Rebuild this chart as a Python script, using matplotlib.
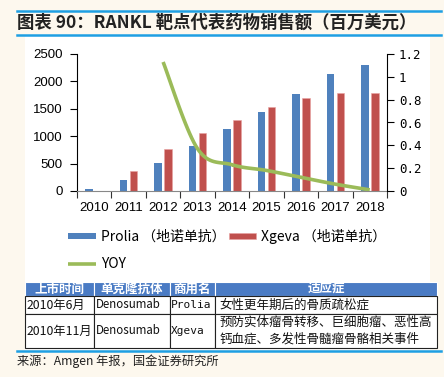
import numpy as np
import matplotlib
matplotlib.use('Agg')
import matplotlib.pyplot as plt
from matplotlib.patches import Rectangle
from matplotlib.lines import Line2D

plt.rcParams['font.family'] = ['Noto Sans CJK SC', 'DejaVu Sans']

years   = ['2010', '2011', '2012', '2013', '2014', '2015', '2016', '2017', '2018']
prolia  = [33, 200, 510, 820, 1125, 1440, 1770, 2130, 2300]
xgeva   = [7, 360, 760, 1065, 1290, 1530, 1700, 1795, 1795]
yoy_years = ['2012', '2013', '2014', '2015', '2016', '2017', '2018']
yoy     = [1.13, 0.37, 0.23, 0.18, 0.12, 0.06, 0.01]

table_header = ['上市时间', '单克隆抗体', '商用名', '适应症']
table_rows = [
    ['2010年6月', 'Denosumab', 'Prolia', '女性更年期后的骨质疏松症'],
    ['2010年11月', 'Denosumab', 'Xgeva', '预防实体瘤骨转移、巨细胞瘤、恶性高\n钙血症、多发性骨髓瘤骨骼相关事件'],
]

BLUE = '#4F81BD'
RED = '#C0504D'
GREEN = '#9BBB59'
SKY = '#1E9FE3'
CREAM = '#FDF8EE'

W, H = 444, 377
fig = plt.figure(figsize=(W / 100, H / 100), dpi=100, facecolor=CREAM)

def fx(px):
    return px / W

def fy(py):
    return 1 - py / H

# white panel + blue rules
panel = Rectangle((fx(25), fy(350)), fx(405), (350 - 36) / H,
                  transform=fig.transFigure, facecolor='white', edgecolor='none', zorder=-5)
fig.add_artist(panel)
for yy in (11, 35, 351):
    fig.add_artist(Line2D([fx(17), fx(441)], [fy(yy), fy(yy)], transform=fig.transFigure,
                          color=SKY, lw=1.8, zorder=5))

fig.text(fx(17), fy(23), '图表 90：RANKL 靶点代表药物销售额（百万美元）', fontsize=12.5,
         fontweight='bold', va='center', ha='left', color='#222222')

# ---- chart
ax = fig.add_axes([fx(77), fy(191), fx(310), (191 - 54) / H])
ax.set_facecolor('none')
x = np.arange(len(years))
bw = 0.22
b1 = ax.bar(x - 0.145, prolia, bw, color=BLUE, zorder=2)
b2 = ax.bar(x + 0.145, xgeva, bw, color=RED, edgecolor='#E8A0A0', linewidth=0.4, zorder=2)
ax.set_xlim(-0.5, len(years) - 0.5)
ax.set_ylim(0, 2500)
ax.set_yticks(range(0, 2501, 500))
ax.set_xticks(np.arange(len(years) + 1) - 0.5)
ax.set_xticklabels([])
ax.set_xticks(x, minor=True)
ax.set_xticklabels(years, minor=True, fontfamily='Liberation Sans', fontsize=9.5)
ax.tick_params(axis='x', which='minor', length=0, pad=8)
ax.tick_params(axis='x', which='major', length=5, color='#333333')
ax.tick_params(axis='y', length=5, labelsize=9.5, pad=5.5)
for lab in ax.get_yticklabels():
    lab.set_fontfamily('Liberation Sans')
ax.spines['top'].set_visible(False)
ax.spines['right'].set_visible(False)
ax.spines['bottom'].set_color('#888888')

ax2 = ax.twinx()
ax2.set_ylim(0, 1.2)
ax2.set_yticks([0, 0.2, 0.4, 0.6, 0.8, 1.0, 1.2])
ax2.set_yticklabels(['0', '0.2', '0.4', '0.6', '0.8', '1', '1.2'], fontsize=9,
                    fontfamily='DejaVu Sans Mono')
ax2.tick_params(axis='y', length=5)
ax2.spines['top'].set_visible(False)
ax2.spines['left'].set_visible(False)
ax2.spines['bottom'].set_visible(False)

# smoothed YOY line (Catmull-Rom through the data points)
px = np.array([years.index(y) for y in yoy_years], dtype=float)
py = np.array(yoy)
P = np.column_stack([px, py])
P = np.vstack([P[0], P, P[-1]])
curve = []
for i in range(1, len(P) - 2):
    p0, p1, p2, p3 = P[i - 1], P[i], P[i + 1], P[i + 2]
    for t in np.linspace(0, 1, 20):
        c = 0.5 * ((2 * p1) + (-p0 + p2) * t + (2 * p0 - 5 * p1 + 4 * p2 - p3) * t ** 2
                   + (-p0 + 3 * p1 - 3 * p2 + p3) * t ** 3)
        curve.append(c)
curve = np.array(curve)
line, = ax2.plot(curve[:, 0], curve[:, 1], color=GREEN, lw=2.6, zorder=3,
                 solid_capstyle='butt')

fig.legend([b1, line, b2], ['Prolia （地诺单抗）', 'YOY', 'Xgeva （地诺单抗）'], ncol=2,
           loc='upper left', bbox_to_anchor=(fx(68), fy(229)), frameon=False, fontsize=10,
           handlelength=2.0, handleheight=0.35, labelspacing=0.95, columnspacing=0.25,
           handletextpad=0.35, borderaxespad=0, borderpad=0)

# ---- table
tax = fig.add_axes([fx(25), fy(348), fx(412), (348 - 282) / H])
tax.axis('off')
col_w = [69, 76, 45, 222]
tbl = tax.table(cellText=table_rows, colLabels=table_header, colWidths=[c / 412 for c in col_w],
                bbox=[0, 0, 1, 1], cellLoc='left')
tbl.auto_set_font_size(False)
row_h = [14, 18, 34]
body_size = [8.8, 8.3, 8, 9]
for (r, c), cell in tbl.get_celld().items():
    cell.set_height(row_h[r] / 66)
    cell.set_linewidth(0.8)
    cell.set_edgecolor('#222222')
    cell.PAD = 0.02
    t = cell.get_text()
    if r == 0:
        t.set_fontsize(9)
        cell.set_facecolor('#4A7BC4')
        cell.set_edgecolor('white')
        t.set_color('white')
        t.set_fontweight('bold')
        t.set_ha('center')
        cell._loc = 'center'
    else:
        t.set_fontsize(body_size[c])
        t.set_color('#111111')
        t.set_linespacing(1.35)
        if c == 2:
            t.set_fontfamily('DejaVu Sans Mono')

fig.text(fx(17), fy(361), '来源：Amgen 年报，国金证券研究所', fontsize=8.8, va='center',
         ha='left', color='#222222')

fig.savefig('out.png', dpi=100, facecolor=CREAM)
